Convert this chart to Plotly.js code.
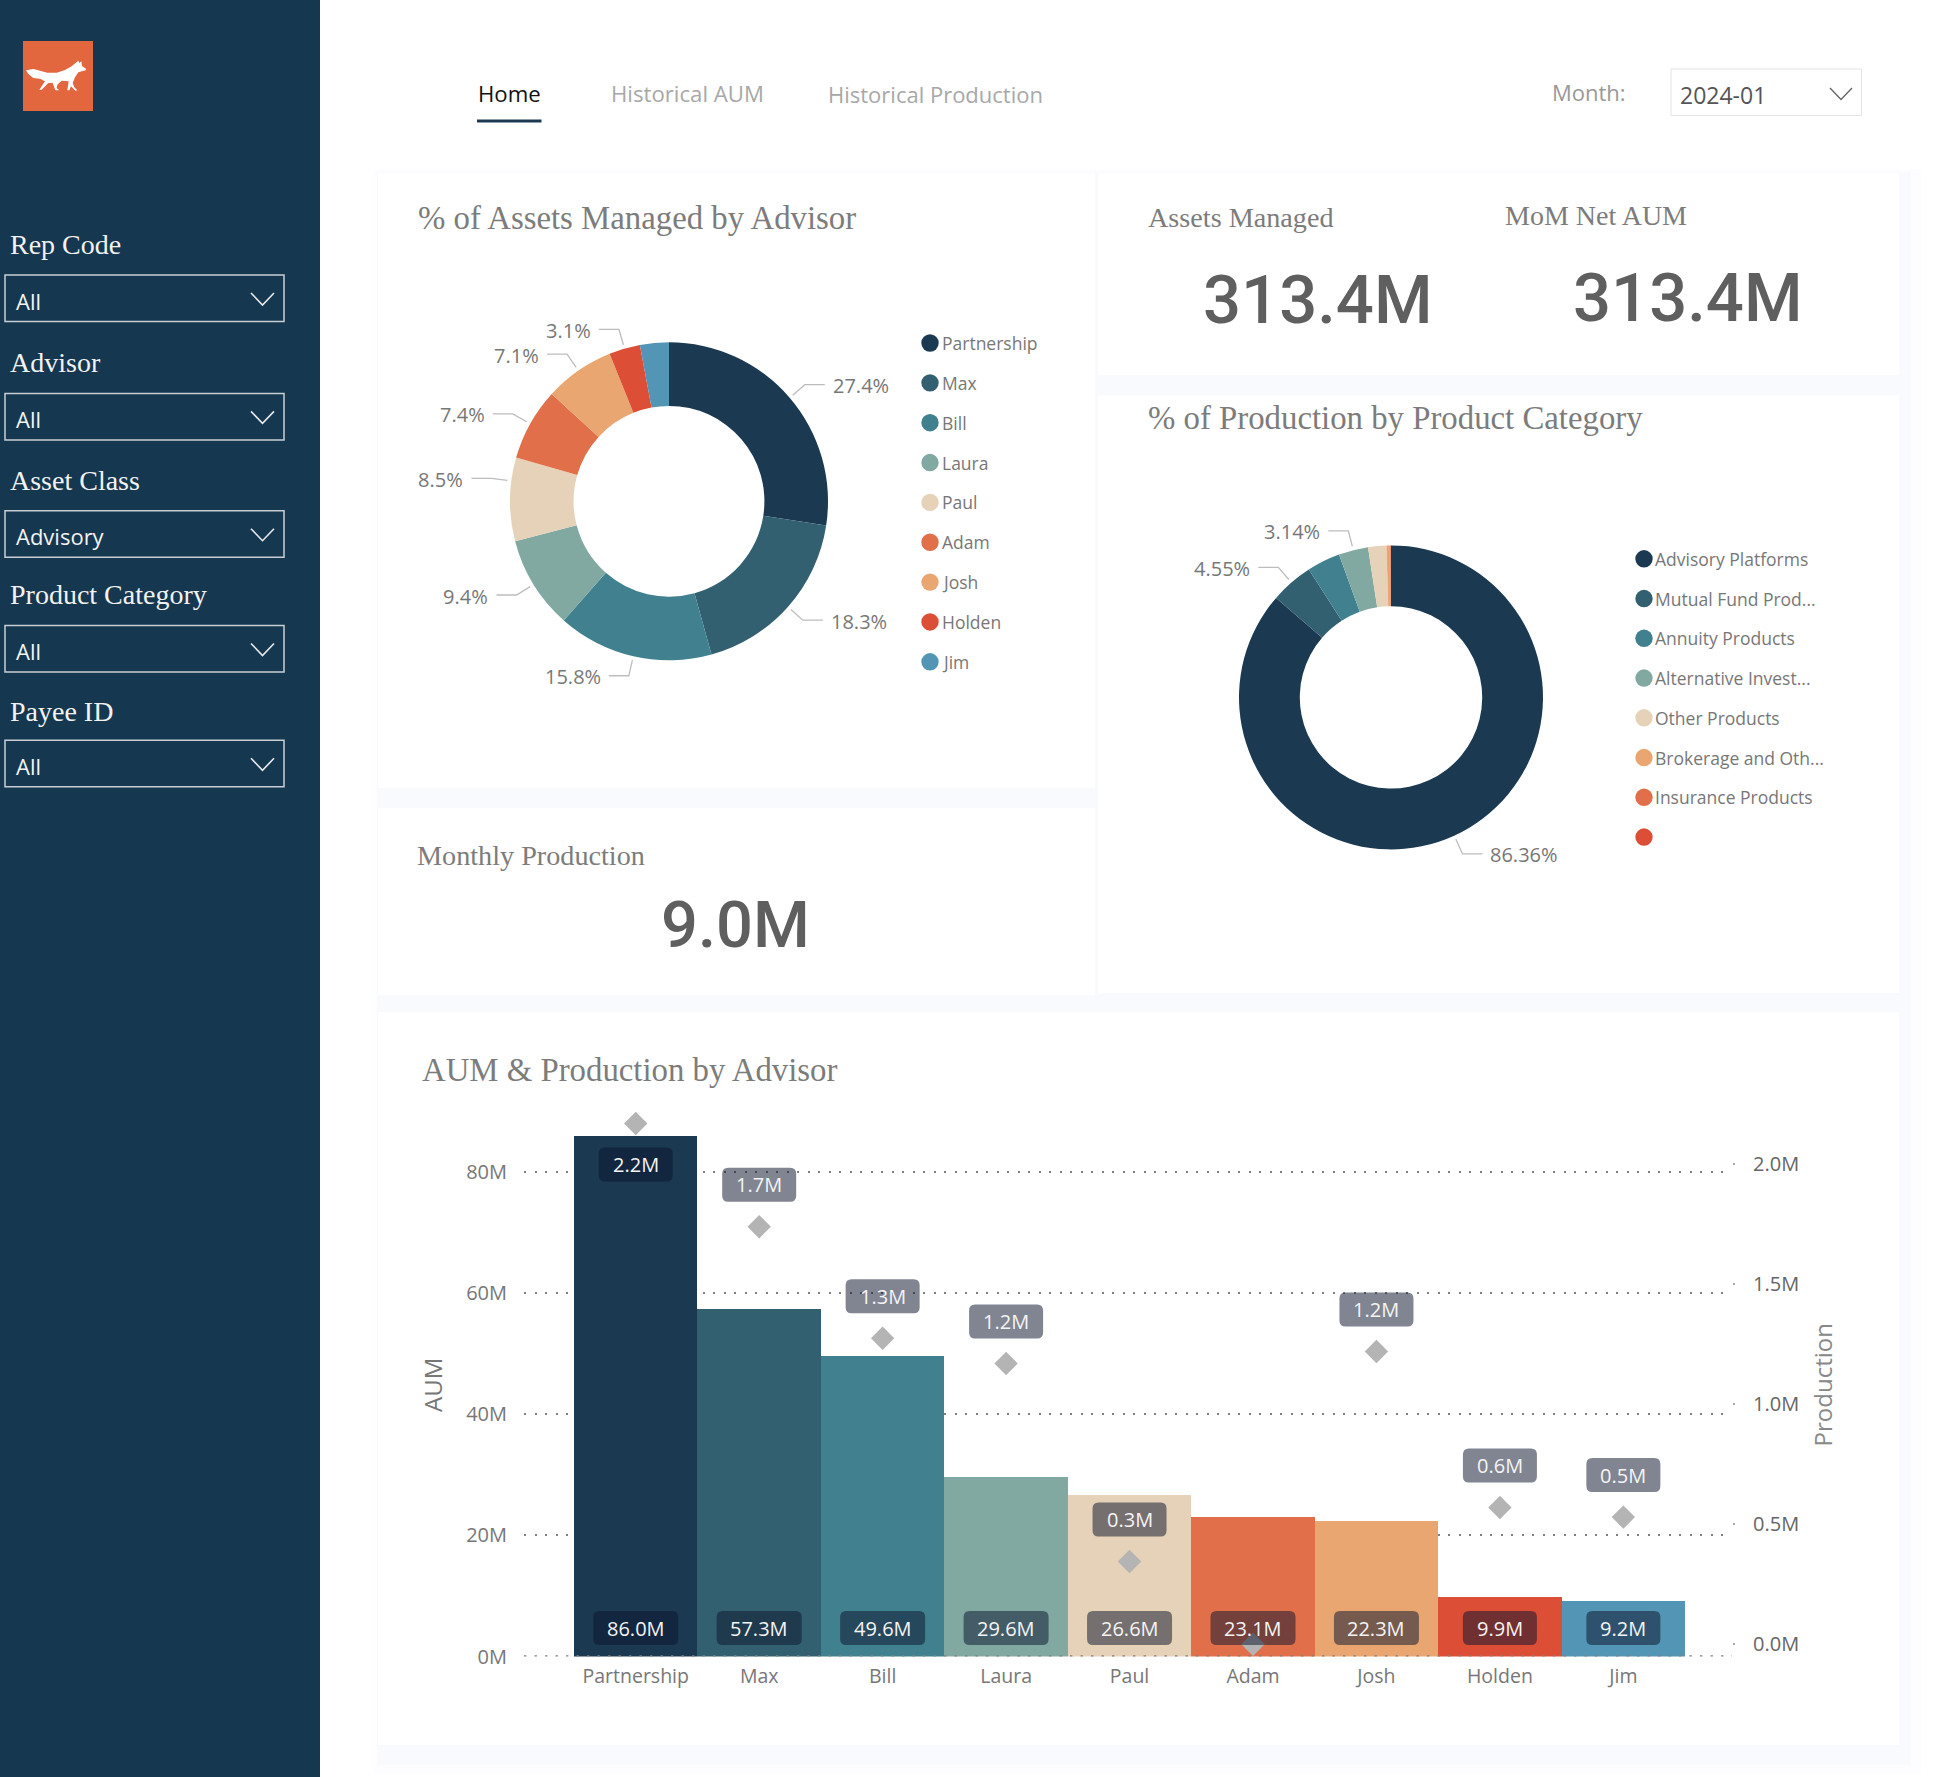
<!DOCTYPE html>
<html><head><meta charset="utf-8">
<script src="https://cdn.plot.ly/plotly-3.0.1.min.js"></script>
<style>html,body{margin:0;padding:0;background:#fff}#chart{width:1940px;height:1777px}</style>
</head><body><div id="chart"></div>
<script>
// ---- data ----
const advisors = ['Partnership','Max','Bill','Laura','Paul','Adam','Josh','Holden','Jim'];
const aumMillions = [86.0,57.3,49.6,29.6,26.6,23.1,22.3,9.9,9.2];
const aumLabels = ['86.0M','57.3M','49.6M','29.6M','26.6M','23.1M','22.3M','9.9M','9.2M'];
const productionMillions = [2.17,1.74,1.275,1.17,0.345,0.0,1.22,0.57,0.53];
const productionLabels = ['2.2M','1.7M','1.3M','1.2M','0.3M','','1.2M','0.6M','0.5M'];
const aumShareLabels = ['27.4%','18.3%','15.8%','9.4%','8.5%','7.4%','7.1%','3.1%',''];
const categories = ['Advisory Platforms','Mutual Fund Prod...','Annuity Products','Alternative Invest...','Other Products','Brokerage and Oth...','Insurance Products',''];
const categoryShare = [86.36,4.55,3.53,3.14,1.94,0.39,0.06,0.03];
const categoryShareLabels = ['86.36%','4.55%','','3.14%','','','',''];
const aumTicks = [0,20,40,60,80];
const aumTickText = ['0M','20M','40M','60M','80M'];
const prodTicks = [0,0.5,1,1.5,2];
const prodTickText = ['0.0M','0.5M','1.0M','1.5M','2.0M'];
const filters = ['Rep Code','Advisor','Asset Class','Product Category','Payee ID'];
const filterValues = ['All','All','Advisory','All','All'];
const tabs = ['Home','Historical AUM','Historical Production'];
const kpiAssets = '313.4M', kpiNet = '313.4M', kpiProduction = '9.0M', month = '2024-01';
// ---- styling ----
const advisorColors = ['#1B3A52','#326070','#40808F','#81A9A2','#E6D2B8','#E1704A','#EAA671','#DC4E35','#5295B5'];
const categoryColors = ['#1B3A52','#326070','#40808F','#81A9A2','#E6D2B8','#EAA671','#E1704A','#DC4E35'];
const W=1940,H=1777;
const SANS='"Open Sans", sans-serif', SERIF='"Liberation Serif", serif', KPI='Roboto, sans-serif';
const TITLE='#7C7C7C';
const fx=x=>x/W, fy=y=>1-y/H;
const shapes=[], ann=[];
function rect(x0,y0,x1,y1,fill,line,lw){shapes.push({type:'rect',xref:'paper',yref:'paper',layer:'below',x0:fx(x0),x1:fx(x1),y0:fy(y0),y1:fy(y1),fillcolor:fill||'rgba(0,0,0,0)',line:{width:lw||0,color:line||'rgba(0,0,0,0)'}});}
function poly(pts,opts){const d=pts.map((p,i)=>(i?'L':'M')+fx(p[0])+','+fy(p[1])).join(' ')+(opts.close?' Z':'');
  shapes.push({type:'path',xref:'paper',yref:'paper',layer:opts.layer||'below',path:d,fillcolor:opts.fill||'rgba(0,0,0,0)',line:{width:opts.lw||0,color:opts.color||'rgba(0,0,0,0)'}});}
function text(t,x,y,size,color,family,anchor,weight){ann.push({text:t,xref:'paper',yref:'paper',x:fx(x),y:fy(y),xanchor:anchor||'left',yanchor:'middle',showarrow:false,borderpad:0,font:{size:size,color:color,family:family||SANS,weight:weight||'normal'}});}

// page furniture
const panels=[[378,173,1095,788],[378,808,1095,995],[1098,173,1899,375],[1098,395,1899,993],[378,1012,1899,1745]];
panels.forEach(p=>rect(p[0]-5,p[1]-4,p[2]+22,p[3]+28,'#FDFDFF'));
panels.forEach(p=>rect(p[0]-1,p[1]-1,p[2]+12,p[3]+20,'#F9FAFE'));
panels.forEach(p=>rect(p[0],p[1],p[2],p[3],'#FFFFFF'));
rect(0,0,320,H,'#15374F');
rect(23,41,93,111,'#E2673F');
const fox=[[18,97],[40,93],[60,98],[82,104],[110,104],[135,96],[155,85],[170,72],[175,68],[178,75],[184,70],[186,84],[198,92],[197,97],[186,100],[175,103],[165,118],[158,135],[163,148],[172,157],[166,158],[153,145],[148,157],[142,157],[146,130],[125,128],[112,140],[110,150],[118,157],[106,157],[98,135],[85,135],[65,155],[58,155],[75,130],[60,122],[40,120],[25,108]];
poly(fox.map(p=>[20+p[0]/3,38+p[1]/3]),{fill:'#FFFFFF',close:true});

// slicers
const filterTop=[275,393.4,510.7,625.5,740.3], filterLabelY=[245,363,480,595,711];
filters.forEach((f,i)=>{
  const t=filterTop[i];
  text(f,9,filterLabelY[i],28,'#F2F2F2',SERIF);
  rect(5,t,284,t+46.5,null,'#C9CED4',1.5);
  text(filterValues[i],14.5,t+25.5,22,'#F2F2F2');
  poly([[251,t+18],[262.5,t+30],[274,t+18]],{color:'#E8EAEC',lw:1.6});
});

// tabs
text(tabs[0],476.5,94,22.2,'#111111');
text(tabs[1],610,94,22.2,'#A8A8A8');
text(tabs[2],827,94,22,'#A8A8A8');
rect(477,119.5,541.5,122.5,'#1B3A52');
text('Month:',1550.5,92,22,'#999999');
rect(1671,69,1861.5,115.5,'#FFFFFF','#E3E3E3',1);
text(month,1679,95,23,'#555555');
poly([[1830,88],[1841,99.5],[1852,88]],{color:'#666666',lw:1.4});

// panel titles & KPIs
text('% of Assets Managed by Advisor',416.5,218,32.8,TITLE,SERIF);
text('Assets Managed',1147,218,28.2,TITLE,SERIF);
text('MoM Net AUM',1504,215,28,TITLE,SERIF);
text('% of Production by Product Category',1147,418,32.8,TITLE,SERIF);
text('Monthly Production',416,855,28.2,TITLE,SERIF);
text('AUM &amp; Production by Advisor',421,1070,32.8,TITLE,SERIF);
text(kpiAssets,1318,300,67,'#5F5F5F',KPI,'center',500);
text(kpiNet,1687.5,298,67,'#5F5F5F',KPI,'center',500);
text(kpiProduction,735,925,65,'#5F5F5F',KPI,'center',500);

// donut helpers: leader geometry derived from each slice's mid angle
function leaders(vals,labels,cx,cy,R,tweak){
  const tot=vals.reduce((a,b)=>a+b,0);let cum=0;
  vals.forEach((v,i)=>{
    const mid=(cum+v/2)/tot*360;cum+=v;
    if(!labels[i])return;
    const a=(mid+(tweak[i]||0))*Math.PI/180,s=Math.sin(a),c=Math.cos(a);
    const right=s>0, r0=R+4, r1=R+20;
    const x0=cx+r0*s,y0=cy-r0*c,x1=cx+r1*s,y1=cy-r1*c,x2=x1+(right?20:-20);
    poly([[x0,y0],[x1,y1],[x2,y1]],{color:'#BDBDBD',lw:1.3});
    text(labels[i],x2+(right?7:-7),y1+1,20,'#777777',SANS,right?'left':'right');
  });
}
function legend(names,colors,dotX,textX,firstY,step){
  names.forEach((n,i)=>{
    const y=firstY+i*step,r=8.7;
    shapes.push({type:'circle',xref:'paper',yref:'paper',layer:'below',x0:fx(dotX-r),x1:fx(dotX+r),y0:fy(y+r),y1:fy(y-r),fillcolor:colors[i],line:{width:0}});
    if(n)text(n,textX-1,y,17.5,'#777777');
  });
}
const cx1=669,cy1=501.3,R1=159, cx2=1391,cy2=697.4,R2=152;
leaders(aumMillions,aumShareLabels,cx1,cy1,R1,{4:6.7});
leaders(categoryShare,categoryShareLabels,cx2,cy2,R2,{});
legend(advisors,advisorColors,930,941.5,343,39.85);
legend(categories,categoryColors,1644,1655.4,558.8,39.75);

// bar-chart value badges (anchored on the data, sized in pixels)
function pill(w,h,r,dy){const a=w/2,b=h/2;
  return `M${-a+r},${dy-b} L${a-r},${dy-b} Q${a},${dy-b} ${a},${dy-b+r} L${a},${dy+b-r} Q${a},${dy+b} ${a-r},${dy+b} L${-a+r},${dy+b} Q${-a},${dy+b} ${-a},${dy+b-r} L${-a},${dy-b+r} Q${-a},${dy-b} ${-a+r},${dy-b} Z`;}
const BADGE='rgba(14,22,46,0.52)';
advisors.forEach((n,i)=>{
  const w=aumLabels[i].length>4?85:74;
  shapes.push({type:'path',layer:'above',xref:'x',yref:'y',xsizemode:'pixel',ysizemode:'pixel',xanchor:n,yanchor:0,path:pill(w,34,6,28.5),fillcolor:BADGE,line:{width:0}});
  ann.push({text:aumLabels[i],xref:'x',yref:'y',x:n,y:0,yshift:28,showarrow:false,font:{size:20,color:'#F4F4F4',family:SANS}});
  if(productionLabels[i]){
    const dy=i===0?-41:42;
    shapes.push({type:'path',layer:'above',xref:'x',yref:'y2',xsizemode:'pixel',ysizemode:'pixel',xanchor:n,yanchor:productionMillions[i],path:pill(74,34,6,dy),fillcolor:BADGE,line:{width:0}});
    ann.push({text:productionLabels[i],xref:'x',yref:'y2',x:n,y:productionMillions[i],yshift:dy,showarrow:false,font:{size:20,color:'#F4F4F4',family:SANS}});
  }
});
// dotted baseline (the axis drops its own gridline at zero)
shapes.push({type:'line',layer:'above',xref:'paper',yref:'y',x0:fx(524),x1:fx(1732),y0:0,y1:0,line:{color:'#808080',width:2.4,dash:'2.4px,8.1px'}});

const pieBase={type:'pie',hole:0.6,sort:false,direction:'clockwise',rotation:0,textinfo:'none',hoverinfo:'label+percent',showlegend:false};
const traces=[
 Object.assign({},pieBase,{labels:advisors,values:aumMillions,marker:{colors:advisorColors,line:{width:0}},domain:{x:[fx(cx1-R1),fx(cx1+R1)],y:[fy(cy1+R1),fy(cy1-R1)]}}),
 Object.assign({},pieBase,{labels:categories.map((c,i)=>c||'(Blank)'),values:categoryShare,marker:{colors:categoryColors,line:{width:0}},domain:{x:[fx(cx2-R2),fx(cx2+R2)],y:[fy(cy2+R2),fy(cy2-R2)]}}),
 {type:'bar',name:'AUM',x:advisors,y:aumMillions,width:1,marker:{color:advisorColors,line:{width:0}},xaxis:'x',yaxis:'y',showlegend:false},
 {type:'scatter',mode:'markers',name:'Production',x:advisors,y:productionMillions,xaxis:'x',yaxis:'y2',cliponaxis:false,marker:{symbol:'diamond',size:18,color:'#B4B4B4',line:{width:0}},showlegend:false}
];
const tickFont={size:20,color:'#777777',family:SANS};
const layout={width:W,height:H,margin:{l:0,r:0,t:0,b:0,pad:0},paper_bgcolor:'#FFFFFF',plot_bgcolor:'rgba(0,0,0,0)',showlegend:false,barmode:'overlay',bargap:0,
 xaxis:{domain:[fx(524),fx(1732)],type:'category',range:[-0.905,8.88],showgrid:false,zeroline:false,showline:false,ticks:'',ticklabelstandoff:6,tickfont:{size:19.5,color:'#777777',family:SANS},fixedrange:true},
 yaxis:{domain:[fy(1656.5),fy(1113)],range:[0,89.73],tickvals:aumTicks,ticktext:aumTickText,showgrid:true,gridcolor:'#808080',gridwidth:2.4,griddash:'2.4px,8.1px',zeroline:false,showline:false,ticks:'',ticklabelstandoff:16,tickfont:tickFont,
   title:{text:'AUM',standoff:16,font:{size:24,color:'#777777',family:SANS}},fixedrange:true},
 yaxis2:{overlaying:'y',side:'right',range:[-0.0508,2.2138],tickvals:prodTicks,ticktext:prodTickText,showgrid:false,zeroline:false,showline:false,ticks:'outside',ticklen:2,tickwidth:2,tickcolor:'#AAAAAA',ticklabelstandoff:14,tickfont:{size:20,color:'#666666',family:SANS},
   title:{text:'Production',standoff:17,font:{size:24,color:'#888888',family:SANS}},fixedrange:true},
 shapes:shapes,annotations:ann};
Plotly.newPlot('chart',traces,layout,{displayModeBar:false,responsive:false});
</script></body></html>
